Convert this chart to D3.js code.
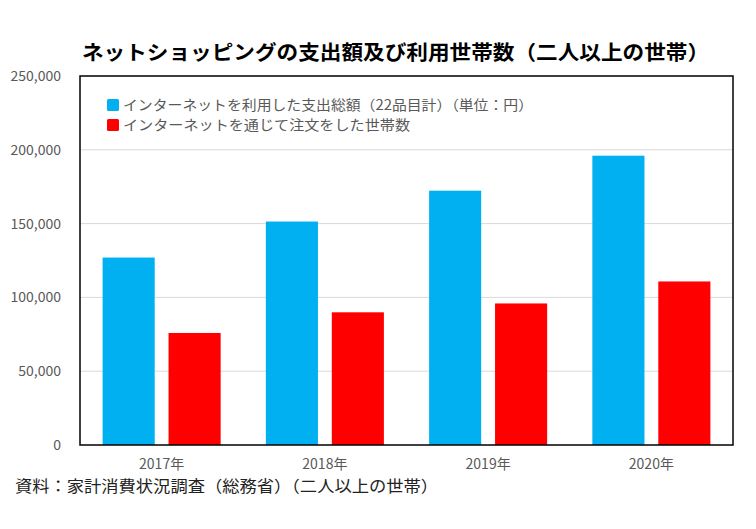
<!DOCTYPE html>
<html><head><meta charset="utf-8">
<script src="https://cdn.jsdelivr.net/npm/d3@7"></script>
<style>body{margin:0;background:#fff}text{font-family:"Noto Sans CJK JP","Noto Sans",sans-serif}</style>
</head><body><svg id="c" width="756" height="529"></svg>
<script>
const categories = ["2017年","2018年","2019年","2020年"];
const seriesNames = ["インターネットを利用した支出総額（22品目計）（単位：円）","インターネットを通じて注文をした世帯数"];
const expenditure = [127000, 151400, 172300, 196000];
const households = [75900, 89900, 95900, 110800];
const yTicks = [0,50000,100000,150000,200000,250000];
const colors = ["#00B0F0","#FF0000"];

const svg = d3.select("#c");
const m = {l:80, r:733, t:76, b:445};
const x = d3.scaleBand().domain(categories).range([m.l, m.r]).paddingInner(0.277).paddingOuter(0.1385);
const xs = d3.scaleBand().domain([0,1]).range([0, x.bandwidth()]).paddingInner(0.21);
const y = d3.scaleLinear().domain([0,250000]).range([m.b, m.t]);

// grid
svg.append("g").selectAll("line").data(yTicks.filter(d=>d>0&&d<250000)).join("line")
  .attr("x1",m.l).attr("x2",m.r).attr("y1",d=>y(d)).attr("y2",d=>y(d))
  .attr("stroke","#d9d9d9").attr("stroke-width",1);

// bars
const data = categories.map((c,i)=>({c, v:[expenditure[i], households[i]]}));
const g = svg.append("g").selectAll("g").data(data).join("g").attr("transform",d=>`translate(${x(d.c)},0)`);
g.selectAll("rect").data(d=>d.v.map((v,k)=>({v,k}))).join("rect")
  .attr("x",d=>xs(d.k)).attr("width",xs.bandwidth())
  .attr("y",d=>y(d.v)).attr("height",d=>y(0)-y(d.v))
  .attr("fill",d=>colors[d.k]);

// frame
svg.append("rect").attr("x",m.l).attr("y",m.t).attr("width",m.r-m.l).attr("height",m.b-m.t)
  .attr("fill","none").attr("stroke","#000").attr("stroke-width",1.5);

// y axis
const ya = d3.axisLeft(y).tickValues(yTicks).tickSize(0).tickPadding(19).tickFormat(d3.format(","));
const yg = svg.append("g").attr("transform",`translate(${m.l},0)`).call(ya);
yg.select(".domain").remove();
yg.selectAll("text").attr("font-size",14).attr("fill","#595959");

// x axis
const xa = d3.axisBottom(x).tickSize(0).tickPadding(14);
const xg = svg.append("g").attr("transform",`translate(0,${m.b})`).call(xa);
xg.select(".domain").remove();
xg.selectAll("text").attr("font-size",14).attr("fill","#595959");

// title
svg.append("text").attr("x",82).attr("y",60).attr("font-size",20).attr("font-weight","bold")
  .attr("fill","#000").attr("textLength",627).attr("lengthAdjust","spacingAndGlyphs")
  .text("ネットショッピングの支出額及び利用世帯数（二人以上の世帯）");

// legend
const lg = svg.append("g").selectAll("g").data(seriesNames).join("g")
  .attr("transform",(d,i)=>`translate(107,${99+i*20})`);
lg.append("rect").attr("width",12).attr("height",12).attr("rx",1.5).attr("fill",(d,i)=>colors[i]);
lg.append("text").attr("x",16).attr("y",11).attr("font-size",14).attr("fill","#595959")
  .attr("textLength",(d,i)=>i===0?410:287).attr("lengthAdjust","spacingAndGlyphs").text(d=>d);

// source
svg.append("text").attr("x",15).attr("y",492).attr("font-size",16).attr("fill","#222")
  .attr("textLength",423).attr("lengthAdjust","spacingAndGlyphs")
  .text("資料：家計消費状況調査（総務省）（二人以上の世帯）");
</script></body></html>
